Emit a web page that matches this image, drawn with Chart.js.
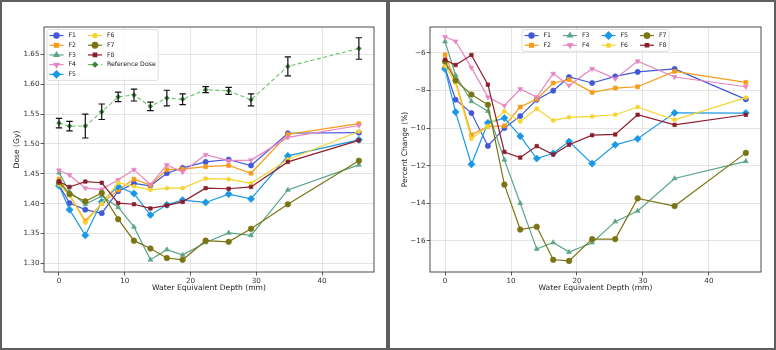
<!DOCTYPE html>
<html>
<head>
<meta charset="utf-8">
<script src="https://cdn.jsdelivr.net/npm/chart.js@4.4.1/dist/chart.umd.min.js"></script>
<style>
  html, body { margin: 0; padding: 0; background: #fff; }
  #wrap { position: relative; width: 776px; height: 350px; }
  .panel { position: absolute; top: 0; width: 388px; height: 350px; box-sizing: border-box; border: 2px solid #5e5e5e; }
  .panel canvas { display: block; }
</style>
</head>
<body>
<div id="wrap">
  <div class="panel" style="left:0"><canvas id="doseChart" width="384" height="346"></canvas></div>
  <div class="panel" style="left:388px"><canvas id="pctChart" width="384" height="346"></canvas></div>
</div>
<script>
// depth points (mm water equivalent)
const depth = [0, 1.6, 4.0, 6.5, 9.0, 11.4, 13.9, 16.4, 18.8, 22.3, 25.8, 29.2, 34.8, 45.6];
const xTicks = [0, 10, 20, 30, 40];

// dose (Gy)
const doseF1 = [1.431, 1.401, 1.390, 1.384, 1.421, 1.434, 1.430, 1.451, 1.460, 1.470, 1.474, 1.464, 1.518, 1.519];
const doseF2 = [1.441, 1.415, 1.371, 1.400, 1.423, 1.441, 1.431, 1.457, 1.458, 1.462, 1.464, 1.451, 1.516, 1.534];
const doseF3 = [1.452, 1.420, 1.399, 1.413, 1.394, 1.361, 1.306, 1.323, 1.314, 1.335, 1.351, 1.347, 1.423, 1.465];
const doseF4 = [1.456, 1.448, 1.426, 1.424, 1.440, 1.457, 1.432, 1.465, 1.453, 1.482, 1.472, 1.473, 1.511, 1.531];
const doseF5 = [1.430, 1.390, 1.347, 1.403, 1.429, 1.417, 1.381, 1.398, 1.406, 1.402, 1.416, 1.408, 1.480, 1.507];
const doseF6 = [1.432, 1.414, 1.368, 1.400, 1.435, 1.429, 1.423, 1.426, 1.426, 1.442, 1.441, 1.434, 1.474, 1.521];
const doseF7 = [1.436, 1.416, 1.404, 1.418, 1.374, 1.338, 1.325, 1.309, 1.306, 1.338, 1.336, 1.358, 1.399, 1.472];
const doseF8 = [1.437, 1.428, 1.437, 1.435, 1.401, 1.399, 1.392, 1.397, 1.403, 1.426, 1.425, 1.428, 1.470, 1.506];
const doseRef = [1.535, 1.530, 1.530, 1.554, 1.579, 1.582, 1.563, 1.577, 1.575, 1.591, 1.589, 1.574, 1.630, 1.660];
const doseRefErr = [0.008, 0.008, 0.020, 0.013, 0.008, 0.010, 0.007, 0.013, 0.009, 0.005, 0.006, 0.010, 0.016, 0.018];
const doseTicks = [1.30, 1.35, 1.40, 1.45, 1.50, 1.55, 1.60, 1.65];

// percent change vs reference (%)
const pctF1 = [-6.80, -8.49, -9.20, -10.95, -10.00, -9.36, -8.49, -8.01, -7.28, -7.60, -7.25, -7.01, -6.85, -8.47];
const pctF2 = [-6.10, -7.50, -10.36, -9.91, -9.88, -8.88, -8.46, -7.60, -7.42, -8.10, -7.87, -7.80, -6.98, -7.57];
const pctF3 = [-5.40, -7.19, -8.58, -9.10, -11.69, -14.00, -16.44, -16.09, -16.60, -16.10, -14.98, -14.41, -12.68, -11.77];
const pctF4 = [-5.15, -5.38, -6.78, -8.35, -8.81, -7.92, -8.35, -7.10, -7.73, -6.84, -7.37, -6.44, -7.28, -7.80];
const pctF5 = [-6.85, -9.15, -11.93, -9.72, -9.47, -10.43, -11.62, -11.34, -10.72, -11.89, -10.89, -10.57, -9.19, -9.20];
const pctF6 = [-6.70, -7.60, -10.57, -9.90, -9.11, -9.65, -8.97, -9.59, -9.43, -9.38, -9.29, -8.88, -9.56, -8.38];
const pctF7 = [-6.46, -7.46, -8.21, -8.76, -13.01, -15.40, -15.25, -17.01, -17.07, -15.91, -15.91, -13.74, -14.15, -11.32];
const pctF8 = [-6.36, -6.64, -6.11, -7.69, -11.27, -11.57, -10.96, -11.41, -10.89, -10.38, -10.34, -9.29, -9.83, -9.29];
const pctTicks = [-16, -14, -12, -10, -8, -6];

const FONT = 'DejaVu Sans';
const tickFont = { family: FONT, size: 7.2 };
const titleFont = { family: FONT, size: 7.6 };
const gridColor = '#dedede';

// marker / colour per series
const styles = {
  F1: { color: '#4358d6', pointStyle: 'circle', r: 2.6 },
  F2: { color: '#f59c1a', pointStyle: 'rect', r: 2.8 },
  F3: { color: '#59a585', pointStyle: 'triangle', r: 2.8 },
  F4: { color: '#e784c2', pointStyle: 'triangle', r: 2.8, rot: 180 },
  F5: { color: '#1a98e6', pointStyle: 'rectRot', r: 3.6 },
  F6: { color: '#f5d42e', pointStyle: 'circle', r: 2.0 },
  F7: { color: '#7a7514', pointStyle: 'circle', r: 2.8 },
  F8: { color: '#8c1d2c', pointStyle: 'rect', r: 2.5 }
};

function pts(vals) {
  return depth.map((d, i) => ({ x: d, y: vals[i] }));
}

function series(label, vals, idx) {
  const s = styles[label];
  return {
    label: label,
    data: pts(vals),
    borderColor: s.color,
    backgroundColor: s.color,
    pointBackgroundColor: s.color,
    pointBorderColor: s.color,
    borderWidth: 1.2,
    pointStyle: s.pointStyle,
    pointRadius: s.r,
    pointRotation: s.rot || 0,
    pointBorderWidth: 0.6,
    order: 20 - idx
  };
}

// error bars on the reference dose
const errorBars = {
  id: 'errorBars',
  afterDatasetsDraw(chart) {
    const { ctx, scales: { x, y } } = chart;
    ctx.save();
    ctx.strokeStyle = '#111';
    ctx.lineWidth = 1.2;
    chart.data.datasets.forEach(ds => {
      if (!ds.errors) return;
      ds.data.forEach((p, i) => {
        const px = x.getPixelForValue(p.x);
        const top = y.getPixelForValue(p.y + ds.errors[i]);
        const bot = y.getPixelForValue(p.y - ds.errors[i]);
        ctx.beginPath();
        ctx.moveTo(px, top); ctx.lineTo(px, bot);
        ctx.moveTo(px - 3.2, top); ctx.lineTo(px + 3.2, top);
        ctx.moveTo(px - 3.2, bot); ctx.lineTo(px + 3.2, bot);
        ctx.stroke();
      });
    });
    ctx.restore();
  }
};

// axes box on all four sides
const frame = {
  id: 'frame',
  afterDatasetsDraw(chart) {
    const { ctx, chartArea: a } = chart;
    ctx.save();
    ctx.strokeStyle = '#3a3a3a';
    ctx.lineWidth = 0.9;
    ctx.strokeRect(a.left, a.top, a.right - a.left, a.bottom - a.top);
    ctx.restore();
  }
};

// matplotlib-like legend, filled column by column
const gridLegend = {
  id: 'gridLegend',
  afterDraw(chart, args, o) {
    const { ctx, chartArea } = chart;
    const sets = chart.data.datasets;
    const rows = o.rows, cols = Math.ceil(sets.length / rows);
    ctx.save();
    ctx.font = o.fontSize + 'px "' + FONT + '"';
    const colW = [];
    for (let c = 0; c < cols; c++) {
      let w = 0;
      for (let r = 0; r < rows; r++) {
        const ds = sets[c * rows + r];
        if (ds) w = Math.max(w, ctx.measureText(ds.label).width);
      }
      colW.push(o.handle + o.textGap + w);
    }
    const boxW = colW.reduce((a, b) => a + b, 0) + o.colGap * (cols - 1) + o.padX * 2;
    const boxH = rows * o.rowH + o.padY * 2;
    const x0 = o.align === 'center' ? (chartArea.left + chartArea.right - boxW) / 2 : chartArea.left + o.offX;
    const y0 = chartArea.top + o.offY;

    ctx.fillStyle = 'rgba(255,255,255,0.85)';
    ctx.strokeStyle = '#d6d6d6';
    ctx.lineWidth = 0.8;
    ctx.beginPath();
    if (ctx.roundRect) ctx.roundRect(x0, y0, boxW, boxH, 2);
    else ctx.rect(x0, y0, boxW, boxH);
    ctx.fill();
    ctx.stroke();

    let cx = x0 + o.padX;
    for (let c = 0; c < cols; c++) {
      for (let r = 0; r < rows; r++) {
        const ds = sets[c * rows + r];
        if (!ds) continue;
        const y = y0 + o.padY + o.rowH * (r + 0.5);
        ctx.strokeStyle = ds.borderColor;
        ctx.lineWidth = ds.borderWidth;
        ctx.setLineDash(ds.borderDash || []);
        ctx.beginPath();
        ctx.moveTo(cx, y);
        ctx.lineTo(cx + o.handle, y);
        ctx.stroke();
        ctx.setLineDash([]);
        ctx.fillStyle = ds.pointBackgroundColor;
        ctx.strokeStyle = ds.pointBorderColor;
        Chart.helpers.drawPoint(ctx, {
          pointStyle: ds.pointStyle, radius: ds.pointRadius,
          rotation: ds.pointRotation || 0, borderWidth: ds.pointBorderWidth
        }, cx + o.handle / 2, y);
        ctx.fillStyle = '#222';
        ctx.textBaseline = 'middle';
        ctx.textAlign = 'left';
        ctx.fillText(ds.label, cx + o.handle + o.textGap, y);
      }
      cx += colW[c] + o.colGap;
    }
    ctx.restore();
  }
};

function scales(yTicks, yMin, yMax, yTitle, yFmt, yWidth) {
  return {
    x: {
      type: 'linear', min: -2.28, max: 47.9,
      afterBuildTicks: s => { s.ticks = xTicks.map(v => ({ value: v })); },
      afterFit: s => { s.height = 21; },
      grid: { color: gridColor, lineWidth: 0.8, tickColor: '#333', tickLength: 3.5, tickWidth: 0.8 },
      border: { display: false },
      ticks: { color: '#333', font: tickFont, padding: 1, maxRotation: 0, callback: v => String(v) },
      title: { display: true, text: 'Water Equivalent Depth (mm)', color: '#222', font: titleFont, padding: 0 }
    },
    y: {
      type: 'linear', min: yMin, max: yMax,
      afterBuildTicks: s => { s.ticks = yTicks.map(v => ({ value: v })); },
      afterFit: s => { s.width = yWidth; },
      grid: { color: gridColor, lineWidth: 0.8, tickColor: '#333', tickLength: 3.5, tickWidth: 0.8 },
      border: { display: false },
      ticks: { color: '#333', font: tickFont, padding: 1, callback: yFmt },
      title: { display: true, text: yTitle, color: '#222', font: titleFont, padding: 0 }
    }
  };
}

const doseSets = [
  series('F1', doseF1, 0), series('F2', doseF2, 1), series('F3', doseF3, 2), series('F4', doseF4, 3),
  series('F5', doseF5, 4), series('F6', doseF6, 5), series('F7', doseF7, 6), series('F8', doseF8, 7),
  {
    label: 'Reference Dose',
    data: pts(doseRef),
    errors: doseRefErr,
    borderColor: '#6cc06c',
    borderDash: [4, 2.5],
    borderWidth: 1.1,
    pointStyle: 'rectRot',
    pointRadius: 2.4,
    pointBorderWidth: 0.6,
    pointBackgroundColor: '#3f7f3f',
    pointBorderColor: '#3f7f3f',
    order: 1
  }
];

new Chart(document.getElementById('doseChart'), {
  type: 'line',
  data: { datasets: doseSets },
  options: {
    responsive: false,
    animation: false,
    layout: { padding: { left: 10, top: 25, right: 12, bottom: 55 } },
    plugins: {
      legend: { display: false },
      tooltip: { enabled: false },
      gridLegend: { rows: 5, fontSize: 6.2, handle: 14, textGap: 5, colGap: 12, padX: 2.5, padY: 1.2, rowH: 9.7, offX: 3, offY: 2.5 }
    },
    scales: scales(doseTicks, 1.2855, 1.696, 'Dose (Gy)', v => v.toFixed(2), 32)
  },
  plugins: [errorBars, frame, gridLegend]
});

const pctSets = [
  series('F1', pctF1, 0), series('F2', pctF2, 1), series('F3', pctF3, 2), series('F4', pctF4, 3),
  series('F5', pctF5, 4), series('F6', pctF6, 5), series('F7', pctF7, 6), series('F8', pctF8, 7)
];

new Chart(document.getElementById('pctChart'), {
  type: 'line',
  data: { datasets: pctSets },
  options: {
    responsive: false,
    animation: false,
    layout: { padding: { left: 10, top: 25, right: 13, bottom: 55 } },
    plugins: {
      legend: { display: false },
      tooltip: { enabled: false },
      gridLegend: { rows: 2, fontSize: 6.2, handle: 14, textGap: 5, colGap: 12, padX: 2.5, padY: 1.2, rowH: 9.7, align: 'center', offY: 2.5 }
    },
    scales: scales(pctTicks, -17.66, -4.62, 'Percent Change (%)', v => String(v).replace('-', '\u2212'), 30)
  },
  plugins: [frame, gridLegend]
});
</script>
</body>
</html>
